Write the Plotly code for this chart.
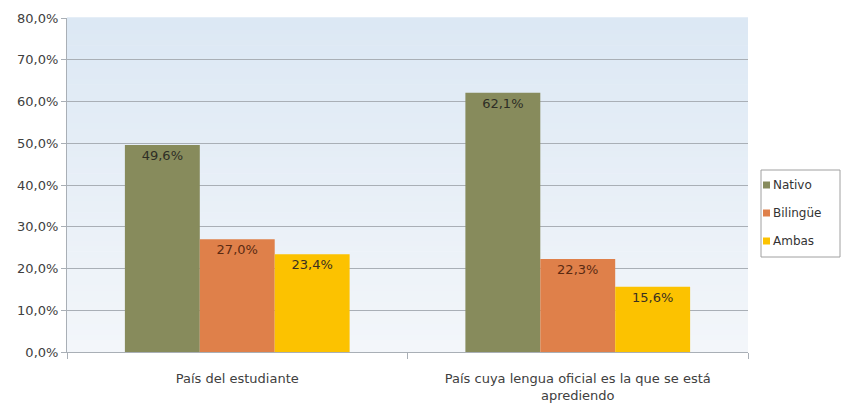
import plotly.graph_objects as go

categories = ["País del estudiante", "País cuya lengua oficial es la que se está<br>aprediendo"]
series_names = ["Nativo", "Bilingüe", "Ambas"]
nativo = [0.496, 0.621]
bilingue = [0.270, 0.223]
ambas = [0.234, 0.156]
y_ticks = [0, 0.1, 0.2, 0.3, 0.4, 0.5, 0.6, 0.7, 0.8]

colors = ["#878B5C", "#DF804A", "#FCC200"]
label_colors = ["#2E2E26", "#5A2A12", "#3A3020"]
FONT = "'DejaVu Sans', sans-serif"

W, H = 841, 406
ML, MR, MT, MB = 67, 93, 18, 54
PW, PH = W - ML - MR, H - MT - MB


def px_x(p):
    return (p - ML) / PW


def px_y(p):
    return (H - MB - p) / PH


fig = go.Figure()
for name, vals, col, lc in zip(series_names, [nativo, bilingue, ambas], colors, label_colors):
    fig.add_trace(go.Bar(
        x=categories, y=vals, name=name,
        marker=dict(color=col, line=dict(width=0)),
        texttemplate="%{y:.1%}", textposition="inside", insidetextanchor="end",
        textfont=dict(color=lc, size=13, family=FONT),
        textangle=0, showlegend=False,
    ))

# soft vertical gradient behind the plot area
n_bands = 60
top = (220, 232, 244)
bottom = (243, 246, 250)
for i in range(n_bands):
    t = i / (n_bands - 1)
    c = tuple(round(bottom[k] + (top[k] - bottom[k]) * t) for k in range(3))
    fig.add_shape(type="rect", xref="x domain", yref="y domain",
                  x0=0, x1=1, y0=i / n_bands, y1=(i + 1) / n_bands + 0.002,
                  fillcolor="rgb(%d,%d,%d)" % c, line=dict(width=0), layer="below")

# legend box with square swatches
fig.add_shape(type="rect", xref="paper", yref="paper",
              x0=px_x(761), x1=px_x(840), y0=px_y(257), y1=px_y(170),
              line=dict(color="#A0A0A0", width=1), fillcolor="white")
for i, (name, col) in enumerate(zip(series_names, colors)):
    cy = 185 + 28 * i
    fig.add_shape(type="rect", xref="paper", yref="paper",
                  x0=px_x(763), x1=px_x(770), y0=px_y(cy + 3.5), y1=px_y(cy - 3.5),
                  fillcolor=col, line=dict(width=0))
    fig.add_annotation(xref="paper", yref="paper", x=px_x(771), y=px_y(cy),
                       text=name, showarrow=False, xanchor="left", yanchor="middle",
                       font=dict(size=12, color="#333333", family=FONT))

fig.update_layout(
    width=W, height=H,
    margin=dict(l=ML, r=MR, t=MT, b=MB, autoexpand=False),
    paper_bgcolor="white", plot_bgcolor="white",
    separators=",.",
    barmode="group", bargap=0.34, bargroupgap=0,
    font=dict(family=FONT, size=13, color="#404040"),
    showlegend=False,
)
fig.update_yaxes(range=[0, 0.8], tickvals=y_ticks, tickformat=".1%",
                 showgrid=True, gridcolor="#A9AFB6", gridwidth=1,
                 showline=True, linecolor="#A9AFB6", linewidth=1,
                 ticks="outside", ticklen=5, tickcolor="#A9AFB6",
                 zeroline=False, tickfont=dict(size=13, color="#404040"))
fig.update_xaxes(showline=True, linecolor="#A9AFB6", linewidth=1,
                 ticks="outside", tickson="boundaries", ticklen=6, tickcolor="#A9AFB6",
                 ticklabelstandoff=14,
                 tickfont=dict(size=13, color="#404040"))

fig.write_html("out.html")
